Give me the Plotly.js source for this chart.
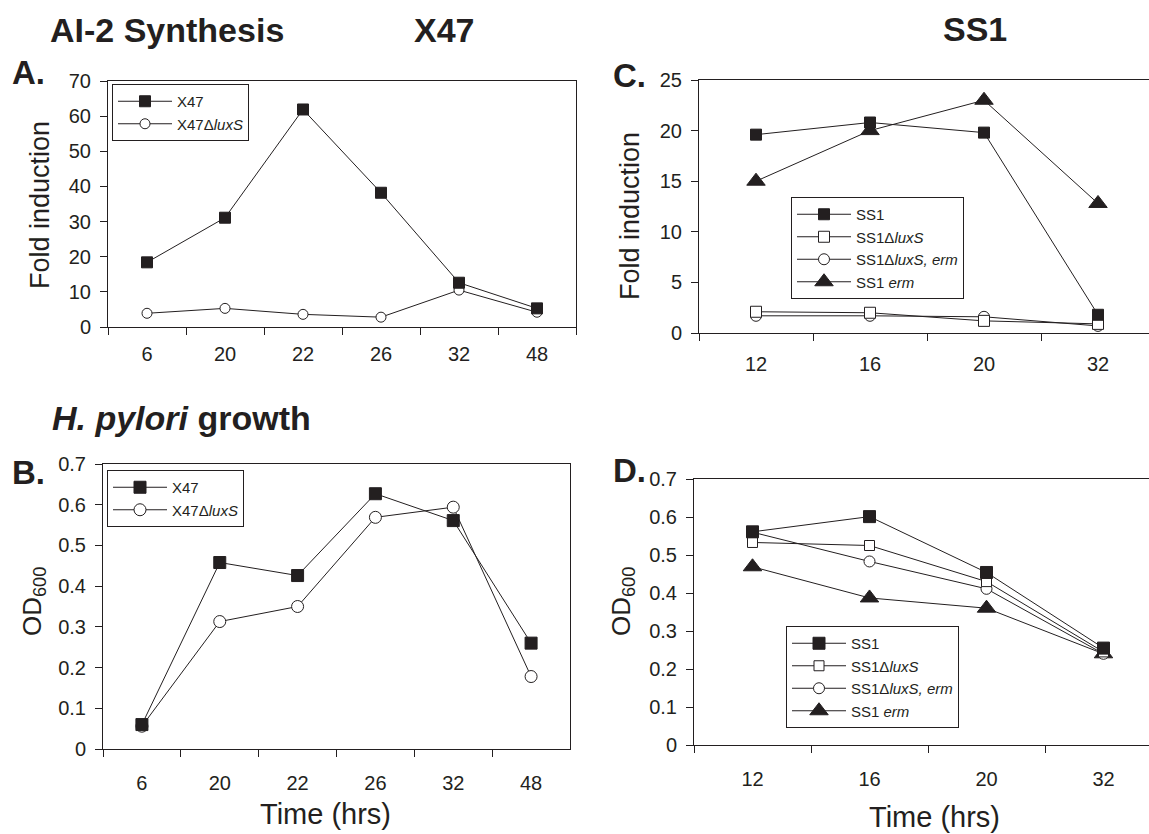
<!DOCTYPE html>
<html><head><meta charset="utf-8">
<script src="https://cdn.plot.ly/plotly-3.0.1.min.js"></script>
<style>html,body{margin:0;padding:0;overflow:hidden;background:#fff}</style>
</head><body><div id="chart" style="width:1170px;height:834px"></div>
<script>
// ---- data ----
const hoursX47 = ["6", "20", "22", "26", "32", "48"];
const hoursSS1 = ["12", "16", "20", "32"];
const aiX47 = [18.4, 31.1, 61.9, 38.2, 12.6, 5.3];
const aiX47luxS = [3.9, 5.3, 3.6, 2.8, 10.5, 4.2];
const odX47 = [0.060, 0.458, 0.426, 0.627, 0.561, 0.260];
const odX47luxS = [0.056, 0.313, 0.350, 0.569, 0.594, 0.178];
const aiSS1 = [19.6, 20.8, 19.8, 1.8];
const aiSS1luxS = [2.1, 2.0, 1.2, 0.9];
const aiSS1luxSerm = [1.7, 1.7, 1.6, 0.7];
const aiSS1erm = [15.0, 20.0, 23.0, 12.8];
const odSS1 = [0.561, 0.601, 0.454, 0.255];
const odSS1luxS = [0.533, 0.525, 0.430, 0.245];
const odSS1luxSerm = [0.560, 0.483, 0.411, 0.240];
const odSS1erm = [0.469, 0.387, 0.360, 0.240];
const nameX47 = "X47";
const nameX47luxS = "X47Δ<i>luxS</i>";
const nameSS1 = "SS1";
const nameSS1luxS = "SS1Δ<i>luxS</i>";
const nameSS1luxSerm = "SS1Δ<i>luxS, erm</i>";
const nameSS1erm = "SS1 <i>erm</i>";

// ---- layout helpers ----
const W = 1170, H = 834;
const px = v => v / W;
const py = v => 1 - v / H;
const INK = "#231f20";
const FONT = "Arial, 'Liberation Sans', sans-serif";

function tr(x, y, name, xa, ya, leg, symbol, size, fill) {
  return {
    x: x, y: y, name: name, type: "scatter", mode: "lines+markers",
    xaxis: xa, yaxis: ya, legend: leg,
    line: {color: INK, width: 1},
    marker: {symbol: symbol, size: size, color: fill, line: {color: INK, width: 1}},
    cliponaxis: false
  };
}

const data = [
  tr(hoursX47, aiX47luxS, nameX47luxS, "x", "y", "legend", "circle", 10, "#fff"),
  tr(hoursX47, aiX47, nameX47, "x", "y", "legend", "square", 11, INK),

  tr(hoursSS1, aiSS1erm, nameSS1erm, "x2", "y2", "legend2", "triangle-up", 16, INK),
  tr(hoursSS1, aiSS1luxSerm, nameSS1luxSerm, "x2", "y2", "legend2", "circle", 11, "#fff"),
  tr(hoursSS1, aiSS1luxS, nameSS1luxS, "x2", "y2", "legend2", "square", 11, "#fff"),
  tr(hoursSS1, aiSS1, nameSS1, "x2", "y2", "legend2", "square", 11, INK),

  tr(hoursX47, odX47luxS, nameX47luxS, "x3", "y3", "legend3", "circle", 12, "#fff"),
  tr(hoursX47, odX47, nameX47, "x3", "y3", "legend3", "square", 12, INK),

  tr(hoursSS1, odSS1erm, nameSS1erm, "x4", "y4", "legend4", "triangle-up", 16, INK),
  tr(hoursSS1, odSS1luxSerm, nameSS1luxSerm, "x4", "y4", "legend4", "circle", 11, "#fff"),
  tr(hoursSS1, odSS1luxS, nameSS1luxS, "x4", "y4", "legend4", "square", 10, "#fff"),
  tr(hoursSS1, odSS1, nameSS1, "x4", "y4", "legend4", "square", 12, INK)
];

function xax(x0, x1, n, anchor, standoff) {
  return {
    type: "category", domain: [px(x0), px(x1)], range: [-0.5, n - 0.5], anchor: anchor,
    tickson: "boundaries", ticks: "outside", ticklen: 7, tickcolor: INK, tickwidth: 1,
    showline: true, mirror: true, linecolor: INK, linewidth: 1,
    showgrid: false, zeroline: false, fixedrange: true,
    tickfont: {family: FONT, size: 20, color: INK}, ticklabelstandoff: standoff
  };
}
function yax(y0, y1, r, dt, fmt, anchor) {
  return {
    domain: [py(y1), py(y0)], range: r, dtick: dt, tick0: 0, tickformat: fmt, anchor: anchor,
    ticks: "outside", ticklen: 7, tickcolor: INK, tickwidth: 1,
    showline: true, mirror: true, linecolor: INK, linewidth: 1,
    showgrid: false, zeroline: false, fixedrange: true,
    tickfont: {family: FONT, size: 20, color: INK}, ticklabelstandoff: 5
  };
}
function leg(x, y) {
  return {
    x: px(x), y: py(y), xanchor: "left", yanchor: "top",
    bgcolor: "#fff", bordercolor: INK, borderwidth: 1, traceorder: "reversed",
    font: {family: FONT, size: 15, color: INK}, itemwidth: 54
  };
}
function ann(text, x, y, size, opts) {
  return Object.assign({
    text: text, xref: "paper", yref: "paper", x: px(x), y: py(y),
    xanchor: "center", yanchor: "middle", showarrow: false,
    font: {family: FONT, size: size, color: INK}
  }, opts || {});
}

const layout = {
  width: W, height: H, margin: {l: 0, r: 0, t: 0, b: 0},
  paper_bgcolor: "#fff", plot_bgcolor: "#fff", showlegend: true,
  xaxis: xax(108, 576, 6, "y", 9),
  yaxis: yax(81, 327, [0, 70], 10, "", "x"),
  xaxis2: xax(699, 1155, 4, "y2", 13),
  yaxis2: yax(80, 333, [0, 25], 5, "", "x2"),
  xaxis3: xax(103, 570, 6, "y3", 16),
  yaxis3: yax(464, 749, [0, 0.7], 0.1, ".1~f", "x3"),
  xaxis4: xax(694, 1162, 4, "y4", 16),
  yaxis4: yax(479, 745, [0, 0.7], 0.1, ".1~f", "x4"),
  legend: leg(112, 84),
  legend2: leg(791, 197),
  legend3: leg(107, 470),
  legend4: leg(786, 626),
  annotations: [
    ann("<b>AI-2 Synthesis</b>", 48, 30, 34, {xanchor: "left"}),
    ann("<b>X47</b>", 444, 30, 34),
    ann("<b>SS1</b>", 975, 29, 34),
    ann("<b><i>H. pylori</i> growth</b>", 50, 418, 34, {xanchor: "left"}),
    ann("<b>A.</b>", 10, 72, 33, {xanchor: "left"}),
    ann("<b>C.</b>", 611, 76, 33, {xanchor: "left"}),
    ann("<b>B.</b>", 10, 472, 33, {xanchor: "left"}),
    ann("<b>D.</b>", 611, 470, 33, {xanchor: "left"}),
    ann("Fold induction", 40, 205, 27, {textangle: -90}),
    ann("Fold induction", 630, 216, 27, {textangle: -90}),
    ann("OD<sub>600</sub>", 33, 602, 26, {textangle: -90}),
    ann("OD<sub>600</sub>", 622, 602, 26, {textangle: -90}),
    ann("Time (hrs)", 325, 814, 29),
    ann("Time (hrs)", 934, 817, 29)
  ]
};

Plotly.newPlot("chart", data, layout, {staticPlot: true, displayModeBar: false});
</script></body></html>
